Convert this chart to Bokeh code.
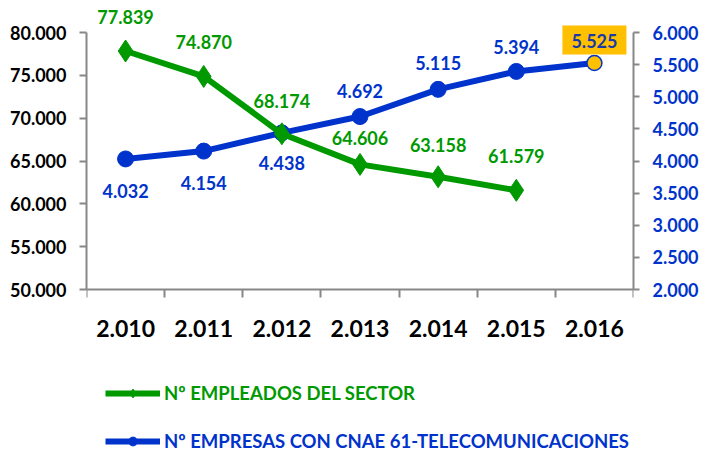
from bokeh.plotting import figure
from bokeh.models import (Range1d, LinearAxis, FixedTicker, Legend, LegendItem,
                          ColumnDataSource, Label)
from bokeh.core.properties import value
from bokeh.embed import file_html
from bokeh.resources import INLINE

years = ["2.010", "2.011", "2.012", "2.013", "2.014", "2.015", "2.016"]
empleados = [77839, 74870, 68174, 64606, 63158, 61579]
empresas = [4032, 4154, 4438, 4692, 5115, 5394, 5525]
left_ticks = [50000, 55000, 60000, 65000, 70000, 75000, 80000]
right_ticks = [2000, 2500, 3000, 3500, 4000, 4500, 5000, 5500, 6000]

GREEN = "#009900"
BLUE = "#0033CC"
GREY = "#878787"
FONT = "Lato"

# pixel layout: the frame fills the whole height; axes are bounded
H = 452
TOP_AXIS_PX = 32      # y of the top tick (80.000 / 6.000)
BOTTOM_PX = 289       # y of the baseline


def fmt(v):
    return f"{v:,}".replace(",", ".")


def full_range(lo, hi):
    per_px = (hi - lo) / (BOTTOM_PX - TOP_AXIS_PX)
    return Range1d(lo - (H - BOTTOM_PX) * per_px, hi + TOP_AXIS_PX * per_px)


p = figure(width=701, height=H, output_backend="svg", toolbar_location=None,
           x_range=Range1d(-0.5, len(years) - 0.5),
           y_range=full_range(left_ticks[0], left_ticks[-1]),
           min_border_left=86, min_border_right=68, min_border_top=0,
           min_border_bottom=0)
p.extra_y_ranges = {"right": full_range(right_ticks[0], right_ticks[-1])}
p.outline_line_color = None
p.xgrid.visible = False
p.ygrid.visible = False
p.background_fill_color = "white"
p.border_fill_color = "white"

# x axis, drawn at the baseline value
xa = p.xaxis[0]
xa.fixed_location = left_ticks[0]
xa.ticker = FixedTicker(ticks=list(range(len(years))),
                        minor_ticks=[i - 0.5 for i in range(len(years) + 1)])
xa.major_label_overrides = {i: y for i, y in enumerate(years)}
xa.major_tick_out = 0
xa.major_tick_in = 0
xa.minor_tick_out = 8
xa.minor_tick_in = 0
xa.minor_tick_line_color = GREY
xa.minor_tick_line_width = 2
xa.axis_line_color = GREY
xa.axis_line_width = 2
xa.major_label_text_font = FONT
xa.major_label_text_font_style = "bold"
xa.major_label_text_font_size = "23px"
xa.major_label_text_color = "black"
xa.major_label_standoff = 22

# left axis
ya = p.yaxis[0]
ya.ticker = FixedTicker(ticks=left_ticks)
ya.bounds = (left_ticks[0], left_ticks[-1])
ya.major_label_overrides = {t: fmt(t) for t in left_ticks}
ya.major_tick_out = 7
ya.major_tick_in = 0
ya.minor_tick_out = 0
ya.minor_tick_in = 0
ya.major_tick_line_color = GREY
ya.major_tick_line_width = 2
ya.axis_line_color = GREY
ya.axis_line_width = 2
ya.major_label_text_font = FONT
ya.major_label_text_font_style = "bold"
ya.major_label_text_font_size = "18px"
ya.major_label_text_color = "black"
ya.major_label_standoff = 13

# right axis
ra = LinearAxis(y_range_name="right", ticker=FixedTicker(ticks=right_ticks),
                bounds=(right_ticks[0], right_ticks[-1]))
ra.major_label_overrides = {t: fmt(t) for t in right_ticks}
ra.major_tick_out = 6
ra.major_tick_in = 0
ra.minor_tick_out = 0
ra.minor_tick_in = 0
ra.major_tick_line_color = GREY
ra.major_tick_line_width = 2
ra.axis_line_color = GREY
ra.axis_line_width = 2
ra.major_label_text_font = FONT
ra.major_label_text_font_style = "bold"
ra.major_label_text_font_size = "18px"
ra.major_label_text_color = BLUE
ra.major_label_standoff = 13
p.add_layout(ra, "right")

# data sources
xe = list(range(len(empleados)))
xb = list(range(len(empresas)))
green_offsets = [-34, -34, -33, -26, -32, -34]
blue_offsets = [32, 32, 30, -26, -26, -24]
src_e = ColumnDataSource(dict(x=xe, y=empleados,
                              label=[fmt(v) for v in empleados],
                              off=green_offsets))
src_b = ColumnDataSource(dict(x=xb[:-1], y=empresas[:-1],
                              label=[fmt(v) for v in empresas[:-1]],
                              off=blue_offsets))

# blue series
lb = p.line(xb, empresas, y_range_name="right", line_color=BLUE, line_width=6)
sb = p.scatter("x", "y", source=src_b, y_range_name="right", marker="circle",
               size=16, fill_color=BLUE, line_color=BLUE)
p.scatter([xb[-1]], [empresas[-1]], y_range_name="right", marker="circle",
          size=15, fill_color="#FFC000", line_color=BLUE, line_width=1.5)

# green series
le = p.line(xe, empleados, line_color=GREEN, line_width=6)
se = p.scatter("x", "y", source=src_e, marker="diamond", size=22,
               fill_color=GREEN, line_color=GREEN)

# data labels
p.text("x", "y", text="label", source=src_e, y_offset="off",
       text_align="center", text_baseline="middle",
       text_font=value(FONT), text_font_style="bold", text_font_size="18px",
       text_color=GREEN)
p.text("x", "y", text="label", source=src_b, y_range_name="right", y_offset="off",
       text_align="center", text_baseline="middle",
       text_font=value(FONT), text_font_style="bold", text_font_size="18px",
       text_color=BLUE)
p.add_layout(Label(x=xb[-1], y=empresas[-1], y_range_name="right",
                   text=fmt(empresas[-1]), y_offset=23,
                   text_align="center", text_baseline="middle",
                   text_font=FONT, text_font_style="bold", text_font_size="18px",
                   text_color="#1a3aa8", background_fill_color="#FFC000",
                   padding=dict(left=9, right=9, top=8, bottom=7)))

# legends
common = dict(glyph_width=55, glyph_height=22, label_standoff=4,
              padding=0, margin=0, spacing=0,
              border_line_color=None, background_fill_alpha=0,
              label_text_font=FONT, label_text_font_style="bold",
              label_text_font_size="18.5px")
leg1 = Legend(items=[LegendItem(label="Nº EMPLEADOS DEL SECTOR",
                                renderers=[le, se])],
              location=(19, 48), label_text_color=GREEN, **common)
leg2 = Legend(items=[LegendItem(label="Nº EMPRESAS CON CNAE 61-TELECOMUNICACIONES",
                                renderers=[lb, sb])],
              location=(19, 0), label_text_color=BLUE, **common)
p.add_layout(leg1)
p.add_layout(leg2)

open("out.html", "w").write(file_html(p, INLINE))
